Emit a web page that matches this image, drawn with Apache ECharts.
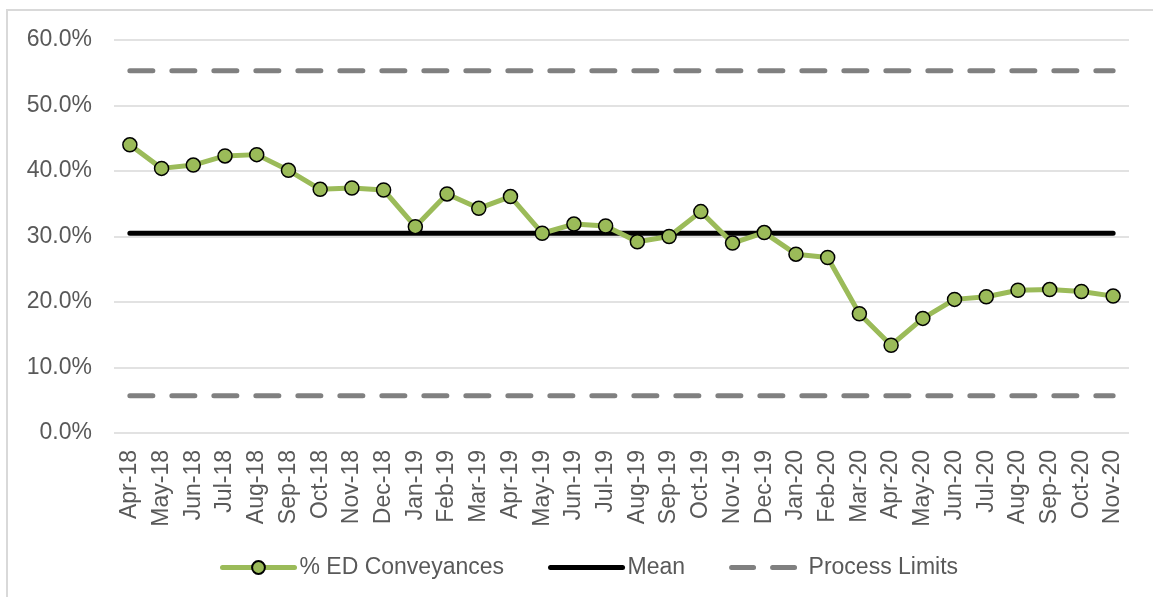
<!DOCTYPE html>
<html lang="en">
<head>
    <meta charset="UTF-8">
    <title>% ED Conveyances</title>
    <script src="https://cdn.jsdelivr.net/npm/echarts@6/dist/echarts.min.js"></script>
    <style>
        html, body { margin: 0; padding: 0; background: #fff; }
        #chart { width: 1153px; height: 597px; }
    </style>
</head>
<body>
<div id="chart"></div>
<script>
    // data
    var months = ['Apr-18', 'May-18', 'Jun-18', 'Jul-18', 'Aug-18', 'Sep-18', 'Oct-18', 'Nov-18',
        'Dec-18', 'Jan-19', 'Feb-19', 'Mar-19', 'Apr-19', 'May-19', 'Jun-19', 'Jul-19',
        'Aug-19', 'Sep-19', 'Oct-19', 'Nov-19', 'Dec-19', 'Jan-20', 'Feb-20', 'Mar-20',
        'Apr-20', 'May-20', 'Jun-20', 'Jul-20', 'Aug-20', 'Sep-20', 'Oct-20', 'Nov-20'];
    var conveyances = [44.0, 40.4, 40.9, 42.3, 42.5, 40.1, 37.2, 37.4,
        37.1, 31.5, 36.5, 34.3, 36.1, 30.5, 31.9, 31.6,
        29.2, 30.0, 33.8, 29.0, 30.6, 27.3, 26.8, 18.2,
        13.4, 17.5, 20.4, 20.8, 21.8, 21.9, 21.6, 20.9];
    var meanValue = 30.5;
    var upperLimit = 55.3;
    var lowerLimit = 5.7;
    var yTicks = [0, 10, 20, 30, 40, 50, 60];

    var meanLine = months.map(function () { return meanValue; });
    var upperLine = months.map(function () { return upperLimit; });
    var lowerLine = months.map(function () { return lowerLimit; });

    var font = 'Liberation Sans, Arial, sans-serif';
    var textGrey = '#595959';

    var myChart = echarts.init(document.getElementById('chart'));
    var limitStyle = {color: '#808080', width: 5, type: [23, 19], cap: 'round'};

    myChart.setOption({
        animation: false,
        textStyle: {fontFamily: font},
        graphic: [{
            type: 'rect',
            shape: {x: 7, y: 10, width: 1160, height: 600},
            style: {fill: 'none', stroke: '#d9d9d9', lineWidth: 2},
            silent: true
        }],
        grid: {left: 114, right: 24, top: 40, bottom: 164},
        legend: {
            bottom: 13,
            left: 215,
            itemWidth: 72,
            itemHeight: 16,
            itemGap: 44,
            textStyle: {fontSize: 23, color: textGrey, fontFamily: font},
            data: [
                {
                    name: '% ED Conveyances',
                    lineStyle: {width: 5, color: '#9bbb59', cap: 'round'}
                },
                {
                    name: 'Mean',
                    itemStyle: {opacity: 0},
                    lineStyle: {width: 5, color: '#000000', cap: 'round'}
                },
                {
                    name: 'Process Limits',
                    itemStyle: {opacity: 0},
                    lineStyle: {width: 5, color: '#808080', type: [22, 19], cap: 'round'}
                }
            ]
        },
        xAxis: {
            type: 'category',
            data: months,
            boundaryGap: true,
            axisLine: {show: false},
            axisTick: {show: false},
            axisLabel: {
                rotate: 90,
                interval: 0,
                margin: 17,
                fontSize: 23,
                color: textGrey,
                fontFamily: font
            }
        },
        yAxis: {
            type: 'value',
            min: yTicks[0],
            max: yTicks[yTicks.length - 1],
            interval: 10,
            axisLine: {show: false},
            axisTick: {show: false},
            splitLine: {lineStyle: {color: '#d9d9d9', width: 1.5}},
            axisLabel: {
                margin: 22,
                fontSize: 23,
                color: textGrey,
                fontFamily: font,
                formatter: function (v) { return v.toFixed(1) + '%'; }
            }
        },
        series: [
            {
                name: 'Process Limits',
                type: 'line',
                data: upperLine,
                showSymbol: false,
                symbol: 'none',
                lineStyle: limitStyle,
                itemStyle: {color: '#808080'},
                z: 1
            },
            {
                name: 'Process Limits',
                type: 'line',
                data: lowerLine,
                showSymbol: false,
                symbol: 'none',
                lineStyle: limitStyle,
                itemStyle: {color: '#808080'},
                z: 1
            },
            {
                name: 'Mean',
                type: 'line',
                data: meanLine,
                showSymbol: false,
                symbol: 'none',
                lineStyle: {color: '#000000', width: 5, cap: 'round'},
                itemStyle: {color: '#000000'},
                z: 2
            },
            {
                name: '% ED Conveyances',
                type: 'line',
                data: conveyances,
                symbol: 'circle',
                symbolSize: 14,
                lineStyle: {color: '#9bbb59', width: 5},
                itemStyle: {color: '#9bbb59', borderColor: '#000000', borderWidth: 1.5},
                z: 3
            }
        ]
    });
</script>
</body>
</html>
